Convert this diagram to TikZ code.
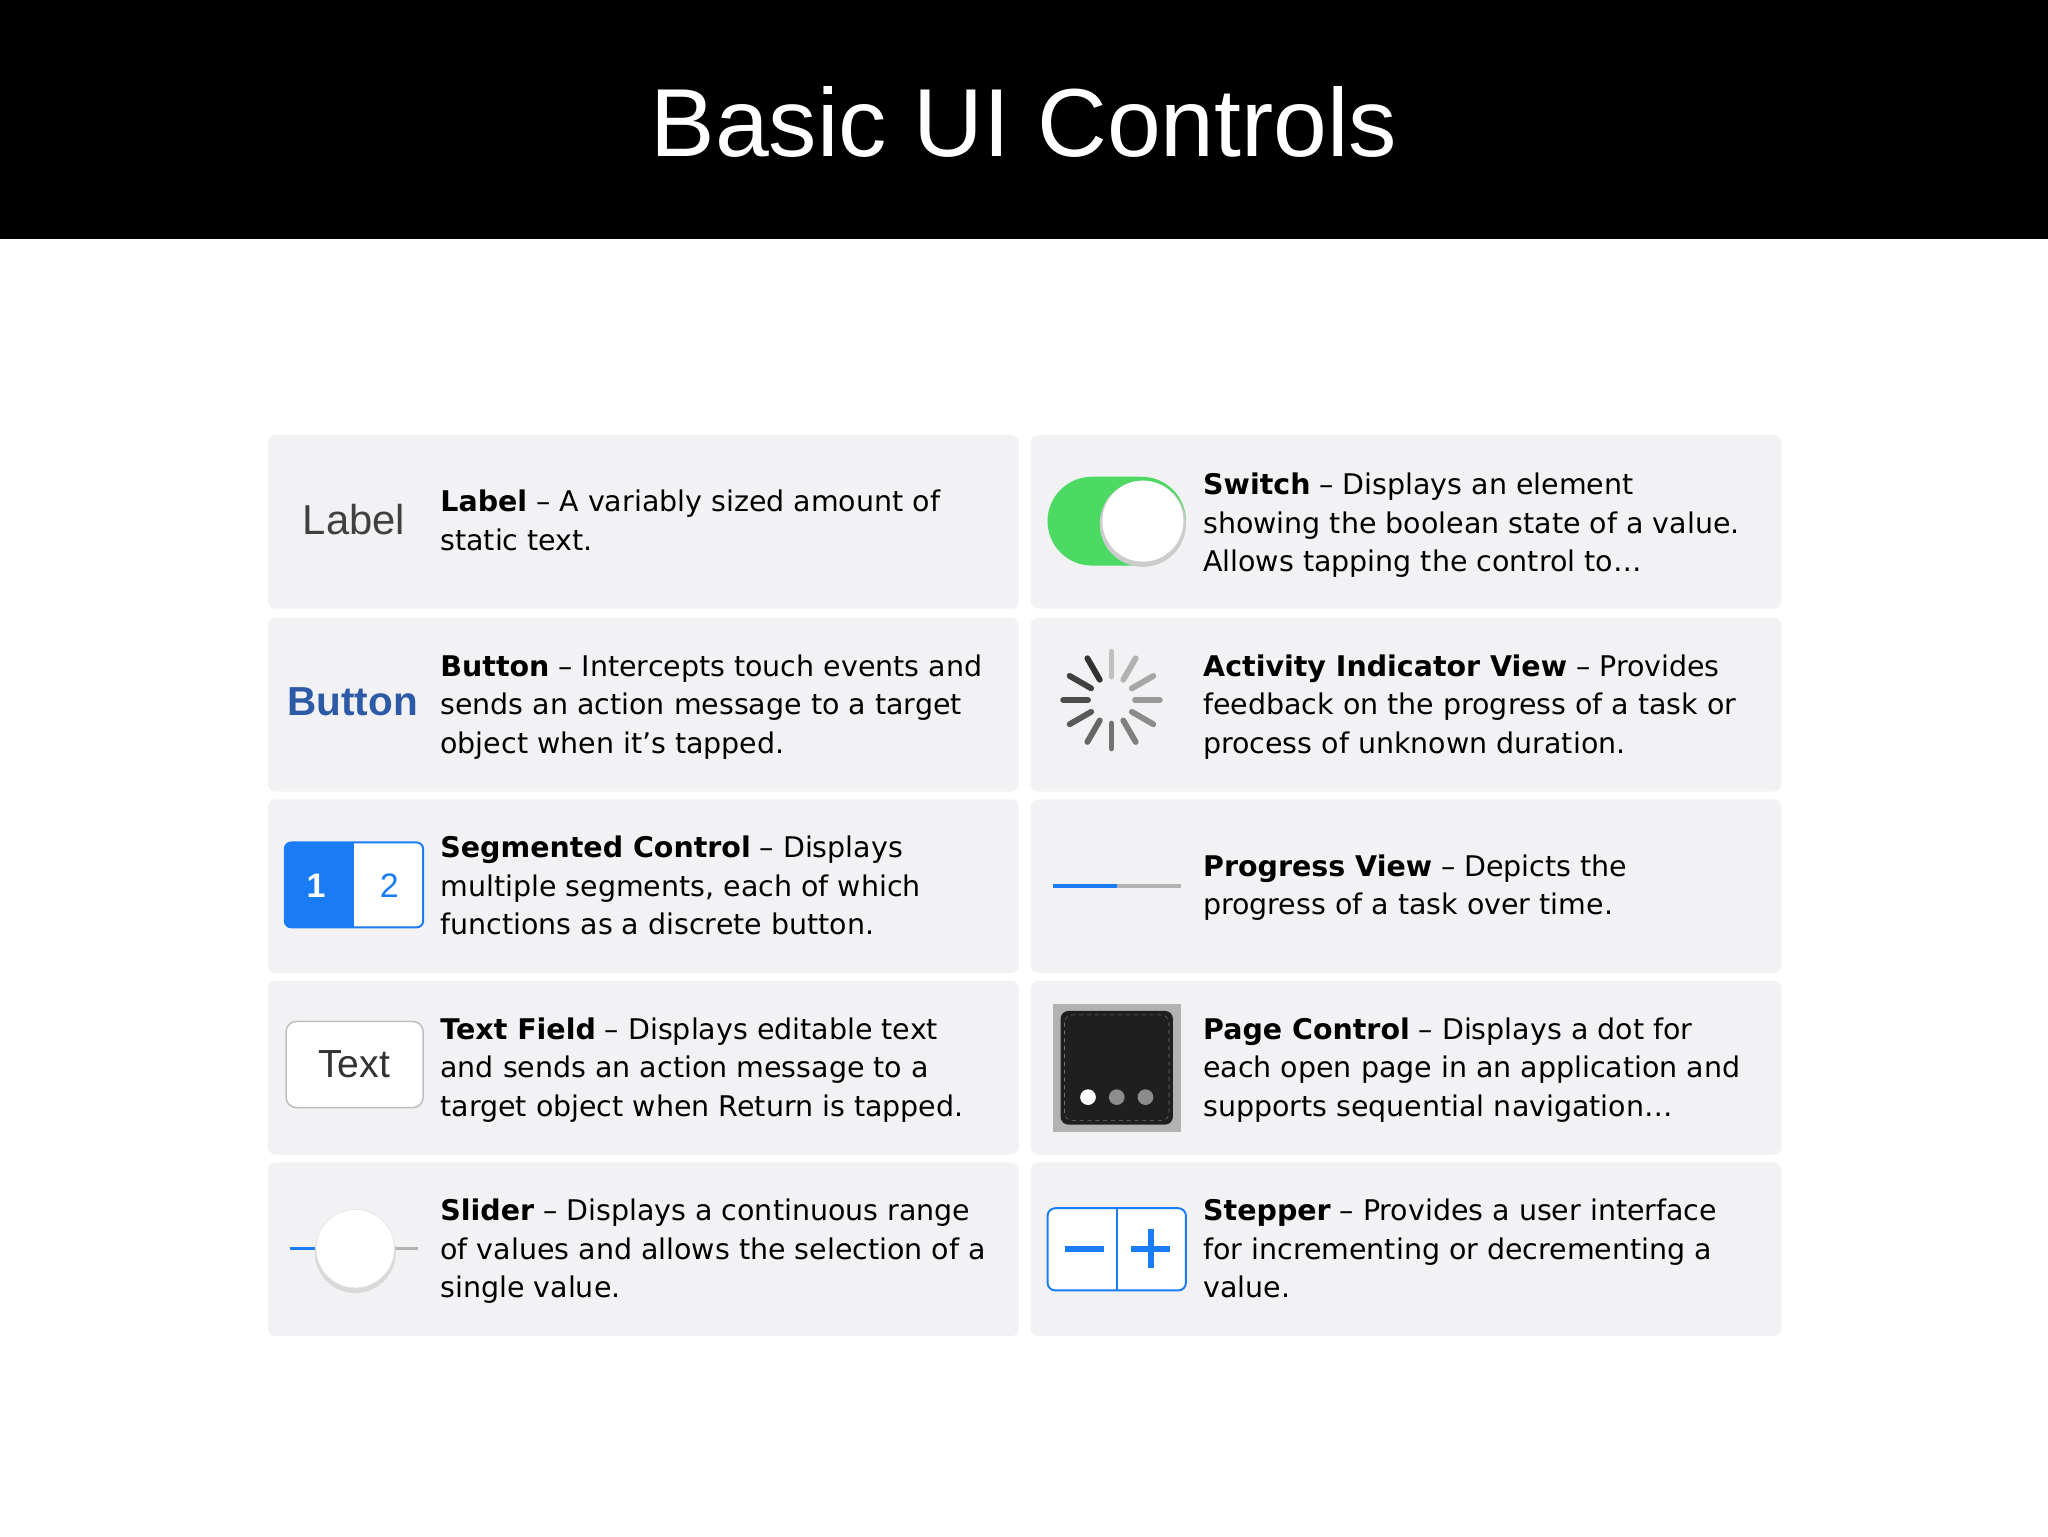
\documentclass[tikz,border=0pt]{standalone}
\usepackage{fontspec}
\setmainfont{DejaVu Sans}
\newfontfamily\titlefont{Liberation Sans}
\begin{document}
\begin{tikzpicture}[x=1pt,y=-1pt,
  card/.style={fill=cardgray,rounded corners=6pt,draw=none},
  desc/.style={anchor=north west,align=left,inner sep=0pt,font=\fontsize{21.8}{29.5}\selectfont},
  spoke/.style={line width=4.5pt,line cap=round}]
\definecolor{cardgray}{HTML}{F2F2F4}
\definecolor{iosblue}{HTML}{1A7CF5}
\definecolor{btnblue}{HTML}{2D5AA6}
\definecolor{iosgreen}{HTML}{4CD964}
\useasboundingbox (0,0) rectangle (1568,1176);
\fill[white] (0,0) rectangle (1568,1176);
\fill[black] (0,0) rectangle (1568,183);
\node[white,font=\titlefont\fontsize{74}{76}\selectfont] (title) at (784,93) {Basic UI Controls};
% cards
\foreach \y/\n in {333/1,473/2,612/3,751/4,890/5}{
  \fill[card] (205,\y) rectangle (780,\y+133);
  \fill[card] (789,\y) rectangle (1364,\y+133);
}
% texts left
\node[desc] (t1) at (337,375) {\textbf{Label} – A variably sized amount of\\static text.};
\node[desc] (t2) at (337,501) {\textbf{Button} – Intercepts touch events and\\sends an action message to a target\\object when it's tapped.};
\node[desc] (t3) at (337,640) {\textbf{Segmented Control} – Displays\\multiple segments, each of which\\functions as a discrete button.};
\node[desc] (t4) at (337,779) {\textbf{Text Field} – Displays editable text\\and sends an action message to a\\target object when Return is tapped.};
\node[desc] (t5) at (337,918) {\textbf{Slider} – Displays a continuous range\\of values and allows the selection of a\\single value.};
% texts right
\node[desc] (r1) at (921,362) {\textbf{Switch} – Displays an element\\showing the boolean state of a value.\\Allows tapping the control to…};
\node[desc] (r2) at (921,501) {\textbf{Activity Indicator View} – Provides\\feedback on the progress of a task or\\process of unknown duration.};
\node[desc] (r3) at (921,654) {\textbf{Progress View} – Depicts the\\progress of a task over time.};
\node[desc] (r4) at (921,779) {\textbf{Page Control} – Displays a dot for\\each open page in an application and\\supports sequential navigation…};
\node[desc] (r5) at (921,918) {\textbf{Stepper} – Provides a user interface\\for incrementing or decrementing a\\value.};
% label icon
\node[font=\titlefont\fontsize{32}{32}\selectfont,text=black!75] (lbl) at (271,398) {Label};
% button icon
\node[font=\titlefont\bfseries\fontsize{31}{32}\selectfont,text=btnblue] (btn) at (270,537) {Button};
% segmented
\draw[iosblue,line width=1.5pt,rounded corners=5pt,fill=white] (218,645) rectangle (324,710);
\fill[iosblue,rounded corners=5pt] (218,645) rectangle (271,710);
\fill[iosblue] (260,645) rectangle (271,710);
\node[white,font=\titlefont\bfseries\fontsize{26}{26}\selectfont] (s1) at (242,678) {1};
\node[iosblue,font=\titlefont\fontsize{26}{26}\selectfont] (s2) at (298,678) {2};
% text field
\draw[black!25,line width=1.2pt,rounded corners=8pt,fill=white] (219,782) rectangle (324,848);
\node[font=\titlefont\fontsize{30}{30}\selectfont,text=black!80] (tf) at (271,815) {Text};
% slider
\draw[black!30,line width=2.5pt] (242,956) -- (320,956);
\draw[iosblue,line width=2.5pt] (222,956) -- (244,956);
\fill[black!15] (272,959) circle (31);
\draw[black!12,fill=white] (272,956) circle (30);
% switch
\fill[iosgreen,rounded corners=34pt] (802,365) rectangle (908,433);
\fill[black!20] (875,401) circle (33);
\fill[white] (875,399) circle (31);
% activity indicator
\foreach \i in {0,...,11}{
  \pgfmathsetmacro\g{25+5*\i}
  \draw[spoke,black!\g] ({851+18*cos(90-30*\i)},{536-18*sin(90-30*\i)}) -- ({851+37*cos(90-30*\i)},{536-37*sin(90-30*\i)});
}
% progress
\draw[black!30,line width=3pt] (855,678) -- (904,678);
\draw[iosblue,line width=3pt] (806,678) -- (855,678);
% page control
\fill[black!30] (806,769) rectangle (904,867);
\fill[black!88,rounded corners=6pt] (812,774) rectangle (898,861);
\draw[black!55,dashed,rounded corners=6pt] (815,777) rectangle (895,858);
\fill[white] (833,840) circle (6);
\fill[black!45] (855,840) circle (6);
\fill[black!45] (877,840) circle (6);
% stepper
\draw[iosblue,line width=1.5pt,rounded corners=6pt,fill=white] (802,925) rectangle (908,988);
\draw[iosblue,line width=1.5pt] (855,925) -- (855,988);
\draw[iosblue,line width=4.5pt] (815,956) -- (845,956);
\draw[iosblue,line width=4.5pt] (866,956) -- (896,956) (881,941) -- (881,971);
\end{tikzpicture}
\end{document}
